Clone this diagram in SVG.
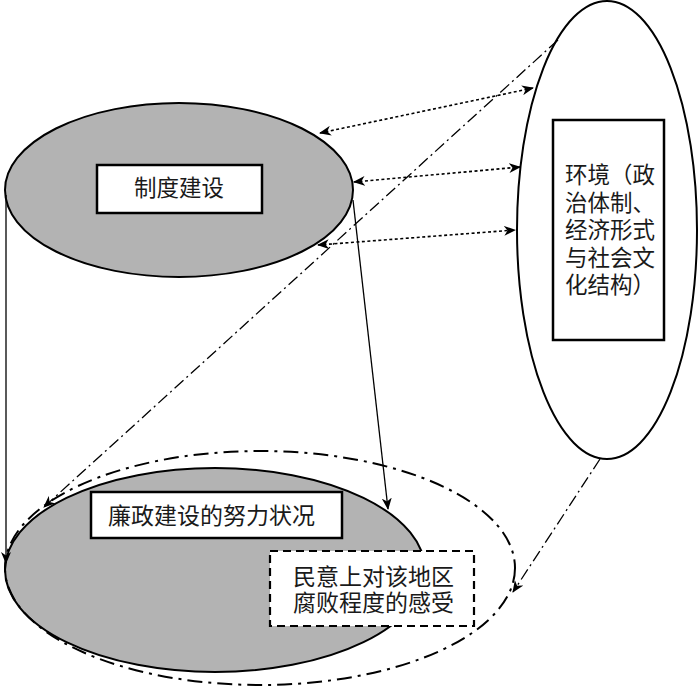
<svg xmlns="http://www.w3.org/2000/svg" width="700" height="689" viewBox="0 0 700 689">
<defs>
<marker id="ah" viewBox="0 0 12 10" refX="11" refY="5" markerWidth="12" markerHeight="10" markerUnits="userSpaceOnUse" orient="auto-start-reverse">
<path d="M0,0 L12,5 L0,10 L3.5,5 z" fill="#000"/>
</marker>
<style>
.ell{fill:#b3b3b3;stroke:#000;stroke-width:2}
.box{fill:#fff;stroke:#000;stroke-width:2.5}
.t{font-family:"Liberation Sans","Noto Sans CJK SC",sans-serif;font-size:22.5px;fill:#1a1a1a}
.tb{font-size:23px}
.solid{fill:none;stroke:#000;stroke-width:1.3}
.dot{fill:none;stroke:#000;stroke-width:1.6;stroke-dasharray:3 2.5}
.dd{fill:none;stroke:#000;stroke-width:1.3;stroke-dasharray:12 4 2 4}
</style>
</defs>
<rect width="700" height="689" fill="#fff"/>
<g id="node-bottom">
<ellipse class="ell" cx="215" cy="570" rx="210" ry="102"/>
<rect class="box" x="91" y="492" width="251" height="46"/>
<text class="t tb" x="108" y="524">廉政建设的努力状况</text>
</g>
<g id="node-perception">
<rect x="270" y="551" width="204" height="75" fill="#fff" stroke="#000" stroke-width="2.2" stroke-dasharray="8 5"/>
<text class="t tb" x="293" y="585">民意上对该地区</text>
<text class="t tb" x="293" y="611">腐败程度的感受</text>
</g>
<g id="outer-loop">
<ellipse cx="260" cy="568" rx="255" ry="117" fill="none" stroke="#000" stroke-width="2" stroke-dasharray="15 6 3 6"/>
</g>
<g id="node-top">
<ellipse class="ell" cx="179" cy="190" rx="174" ry="87"/>
<rect class="box" x="97" y="165" width="165" height="48"/>
<text class="t" x="179" y="196" text-anchor="middle">制度建设</text>
</g>
<g id="node-env">
<ellipse cx="607" cy="230" rx="90" ry="229" fill="#fff" stroke="#000" stroke-width="2"/>
<rect class="box" x="553" y="120" width="111" height="220"/>
<text class="t" x="565" y="183">环境（政</text>
<text class="t" x="565" y="210.5">治体制、</text>
<text class="t" x="565" y="238">经济形式</text>
<text class="t" x="565" y="265.5">与社会文</text>
<text class="t" x="565" y="293">化结构）</text>
</g>
<g id="connectors">
<path class="solid" d="M6,195 L6,563" marker-end="url(#ah)"/>
<path class="solid" d="M353,200 L388,509" marker-end="url(#ah)"/>
<path class="dot" d="M320,133 L533,88" marker-start="url(#ah)" marker-end="url(#ah)"/>
<path class="dot" d="M354,182 L520,167" marker-start="url(#ah)" marker-end="url(#ah)"/>
<path class="dot" d="M318,245 L515,230" marker-start="url(#ah)" marker-end="url(#ah)"/>
<path class="dd" d="M558,40 L44,507" marker-end="url(#ah)"/>
<path class="dd" d="M600,459 L513,592" marker-end="url(#ah)"/>
</g>
</svg>
